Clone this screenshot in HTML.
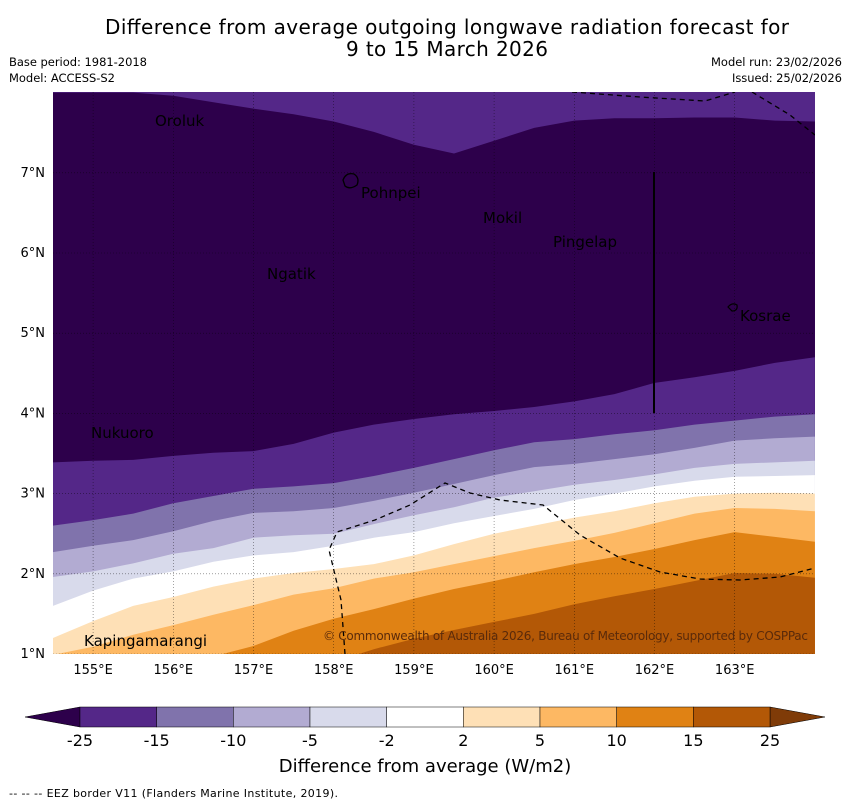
<!DOCTYPE html>
<html><head><meta charset="utf-8"><style>
body{margin:0;background:#fff;width:850px;height:804px;overflow:hidden;font-family:"Liberation Sans","DejaVu Sans",sans-serif}
</style></head><body>
<svg id="svg" width="850" height="804" xmlns="http://www.w3.org/2000/svg" style="font-family:'DejaVu Sans','Liberation Sans',sans-serif">
<defs><clipPath id="clip"><rect x="53" y="92" width="762" height="562"/></clipPath></defs>
<text x="447" y="34" font-size="20" text-anchor="middle" textLength="684">Difference from average outgoing longwave radiation forecast for</text>
<text x="447" y="56" font-size="20" text-anchor="middle" textLength="202">9 to 15 March 2026</text>
<text x="9" y="66" font-size="11.5" textLength="138">Base period: 1981-2018</text>
<text x="9" y="82" font-size="11.5" textLength="106">Model: ACCESS-S2</text>
<text x="842" y="66" font-size="11.5" text-anchor="end" textLength="131">Model run: 23/02/2026</text>
<text x="842" y="82" font-size="11.5" text-anchor="end" textLength="110">Issued: 25/02/2026</text>
<g id="map" clip-path="url(#clip)"></g>
<g id="ticks"></g>
<g id="cbar"></g>
<text x="425" y="772" font-size="18" text-anchor="middle">Difference from average (W/m2)</text>
<text x="9" y="797" font-size="11" textLength="329">--  --  -- EEZ border V11 (Flanders Marine Institute, 2019).</text>
</svg>
<script>
const lons=[154.5,155,155.5,156,156.5,157,157.5,158,158.5,159,159.5,160,160.5,161,161.5,162,162.5,163,163.5,164];
const bA=[8.0,8.0,8.0,7.96,7.88,7.8,7.73,7.64,7.51,7.35,7.24,7.4,7.56,7.65,7.68,7.68,7.69,7.69,7.65,7.64];
const bB=[3.39,3.41,3.42,3.47,3.51,3.53,3.62,3.76,3.86,3.93,3.99,4.03,4.08,4.15,4.24,4.38,4.45,4.53,4.63,4.70];
const bC=[2.60,2.67,2.75,2.88,2.97,3.06,3.09,3.13,3.22,3.32,3.43,3.54,3.64,3.68,3.74,3.79,3.86,3.91,3.96,3.99];
const bD=[2.27,2.35,2.42,2.53,2.66,2.76,2.78,2.82,2.91,3.01,3.12,3.23,3.33,3.37,3.43,3.49,3.57,3.66,3.69,3.71];
const bE=[1.96,2.03,2.13,2.25,2.32,2.45,2.48,2.50,2.62,2.73,2.83,2.95,3.03,3.11,3.17,3.24,3.32,3.37,3.39,3.41];
const bF=[1.60,1.79,1.94,2.03,2.15,2.23,2.27,2.35,2.45,2.52,2.63,2.72,2.81,2.92,3.00,3.09,3.16,3.21,3.22,3.23];
const bG=[1.20,1.41,1.60,1.71,1.84,1.94,2.01,2.06,2.12,2.23,2.37,2.50,2.60,2.70,2.78,2.88,2.96,3.00,3.01,3.00];
const bH=[0.99,1.09,1.24,1.36,1.49,1.61,1.74,1.82,1.94,2.02,2.12,2.22,2.32,2.41,2.51,2.63,2.75,2.82,2.81,2.78];
const bI=[0.9,0.9,0.9,0.9,0.97,1.10,1.29,1.44,1.56,1.69,1.81,1.91,2.02,2.12,2.21,2.31,2.42,2.52,2.46,2.40];
const bJ=[0.9,0.9,0.9,0.9,0.9,0.9,0.9,0.9,1.06,1.19,1.30,1.40,1.50,1.62,1.72,1.81,1.91,2.01,2.00,1.95];
const levels=["-25","-15","-10","-5","-2","2","5","10","15","25"];
const colors=["#542788","#8073ac","#b2abd2","#d8daeb","#ffffff","#fee0b6","#fdb863","#e08214","#b35806"];
const lonTicks=[155,156,157,158,159,160,161,162,163];
const latTicks=[1,2,3,4,5,6,7];
const NS="http://www.w3.org/2000/svg";
const X=lon=>53+(lon-154.5)*80.2;
const Y=lat=>654-(lat-1)*80.2;
function mk(t,a,p){const e=document.createElementNS(NS,t);for(const k in a)e.setAttribute(k,a[k]);p.appendChild(e);return e;}
const map=document.getElementById('map');
mk('rect',{x:53,y:92,width:762,height:562,fill:'#542788'},map);
const bands=[[bA,'#2d004b','band-below-minus25'],[bB,'#542788','band-minus25-minus15'],[bC,'#8073ac','band-minus15-minus10'],[bD,'#b2abd2','band-minus10-minus5'],[bE,'#d8daeb','band-minus5-minus2'],[bF,'#ffffff','band-minus2-2'],[bG,'#fee0b6','band-2-5'],[bH,'#fdb863','band-5-10'],[bI,'#e08214','band-10-15'],[bJ,'#b35806','band-15-25']];
bands.forEach(([b,c,n])=>{
 let d='M'+X(lons[0])+','+Y(b[0]);
 for(let i=1;i<lons.length;i++)d+=' L'+X(lons[i])+','+Y(b[i]);
 d+=' L815,700 L53,700 Z';
 const p=mk('path',{d:d,fill:c},map);
 
 
});
lonTicks.forEach(l=>{const g=mk('line',{x1:X(l),x2:X(l),y1:92,y2:654,stroke:'#000','stroke-width':0.6,'stroke-dasharray':'1,2',opacity:0.6},map);});
latTicks.forEach(l=>{const g=mk('line',{x1:53,x2:815,y1:Y(l),y2:Y(l),stroke:'#000','stroke-width':0.6,'stroke-dasharray':'1,2',opacity:0.6},map);});
let e1=mk('path',{d:'M572,92 L640,97 L705,101 L735,92 M752,92 L790,115 L815,135',fill:'none',stroke:'#000','stroke-width':1.3,'stroke-dasharray':'5,4'},map);

let e2=mk('path',{d:'M345,654 L341,600 L329,550 L337,532 L375,520 L410,505 L445,483 L470,493 L500,500 L543,505 L580,535 L620,558 L660,572 L700,579 L740,580 L780,577 L815,568',fill:'none',stroke:'#000','stroke-width':1.3,'stroke-dasharray':'5,4'},map);

let vl=mk('line',{x1:654,x2:654,y1:172,y2:413,stroke:'#000','stroke-width':2},map);

let is1=mk('path',{d:'M343,180 Q346,172 354,174 Q360,178 357,185 Q350,190 345,186 Z',fill:'none',stroke:'#000','stroke-width':1.3},map);

let is2=mk('path',{d:'M728,307 Q732,302 737,305 Q738,311 732,311 Z',fill:'none',stroke:'#000','stroke-width':1.2},map);

const places=[["Oroluk",155,126],["Pohnpei",361,198],["Mokil",483,223],["Pingelap",553,247],["Ngatik",267,279],["Kosrae",740,321],["Nukuoro",91,438],["Kapingamarangi",84,646]];
places.forEach(([n,x,y])=>{const t=mk('text',{x:x,y:y,'font-size':15},map);t.textContent=n;});
let cp=mk('text',{x:323,y:640,'font-size':12,fill:'#5a2a0a',textLength:485},map);cp.textContent='© Commonwealth of Australia 2026, Bureau of Meteorology, supported by COSPPac';

const tk=document.getElementById('ticks');
lonTicks.forEach(l=>{const t=mk('text',{x:X(l),y:674,'font-size':13,'text-anchor':'middle'},tk);t.textContent=l+'°E';});
latTicks.forEach(l=>{const t=mk('text',{x:45,y:Y(l)+4,'font-size':13,'text-anchor':'end'},tk);t.textContent=l+'°N';});
const cb=document.getElementById('cbar');
const cx0=80,cw=690/9;
let lt=mk('polygon',{points:'25,717 80,707 80,727',fill:'#2d004b',stroke:'#000','stroke-width':0.5},cb);

let rt=mk('polygon',{points:'825,717 770,707 770,727',fill:'#7f3b08',stroke:'#000','stroke-width':0.5},cb);

colors.forEach((c,i)=>{const r=mk('rect',{x:cx0+i*cw,y:707,width:cw,height:20,fill:c,stroke:'#000','stroke-width':0.5},cb);});
levels.forEach((l,i)=>{const t=mk('text',{x:cx0+i*cw,y:746,'font-size':16,'text-anchor':'middle'},cb);t.textContent=l;});
</script>
</body></html>
